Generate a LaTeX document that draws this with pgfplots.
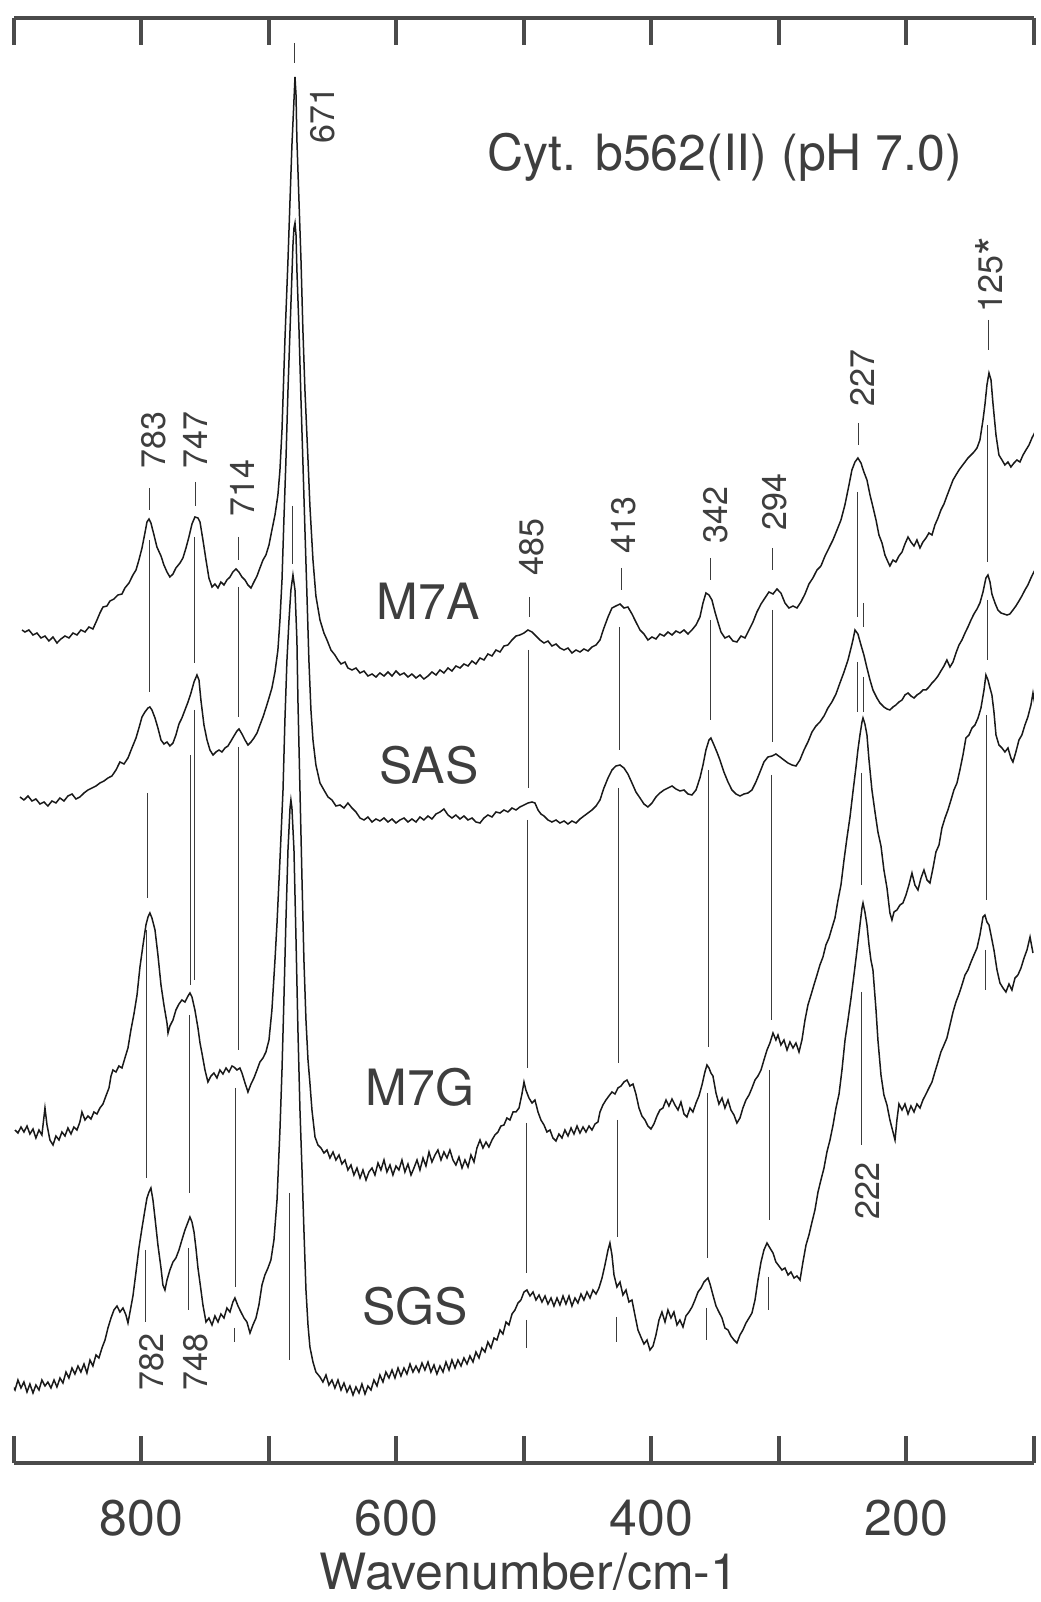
\documentclass[border=0pt]{standalone}
\usepackage{pgfplots}
\pgfplotsset{compat=1.18}
\usepackage{fontspec}
\setmainfont{TeX Gyre Heros}
\definecolor{axiscol}{RGB}{75,75,75}
\definecolor{textcol}{RGB}{62,62,62}
\definecolor{tracecol}{RGB}{25,25,25}
\definecolor{annotcol}{RGB}{60,60,60}
\newcommand{\bigf}{\fontsize{25}{30}\selectfont}
\newcommand{\smf}{\fontsize{17}{20}\selectfont}
\begin{document}
\begin{tikzpicture}
\path[use as bounding box] (0,0) rectangle (520pt,801pt);
\begin{axis}[
  at={(7pt,69.5pt)}, anchor=south west,
  scale only axis, width=510pt, height=722.5pt,
  xmin=100, xmax=900, x dir=reverse,
  ymin=0, ymax=1445,
  axis x line=box, axis y line=none, ytick=\empty,
  xtick={200,400,600,800}, minor xtick={100,300,500,700,900},
  tick align=inside,
  major tick length=13.5pt, minor tick length=13.5pt,
  axis line style={line width=2pt, color=axiscol},
  tick style={line width=2pt, color=axiscol},
  xticklabel style={font=\bigf, text=textcol, inner sep=0pt, yshift=-18.5pt},
  /pgf/number format/assume math mode=true,
  xlabel={Wavenumber/cm-1},
  xlabel style={font=\bigf, text=textcol, at={(axis description cs:0.505,0)}, anchor=north, yshift=-45pt, inner sep=0pt},
  trace/.style={color=tracecol, line width=0.75pt, mark=none},
  annot/.style={color=annotcol, line width=0.5pt, mark=none},
]
% ---------------- M7A ----------------
\addplot[trace] coordinates {(893.7,833) (891.4,831) (888.3,833) (885.1,828) (882.0,830) (878.8,825) (875.7,827) (872.6,822) (869.4,826) (866.3,820) (863.2,824) (860.0,827) (856.9,825) (853.7,830) (850.6,828) (847.5,833) (844.3,831) (841.2,836) (838.1,834) (834.9,843) (832.6,850) (830.2,856) (827.1,857) (824.7,862) (821.6,864) (818.5,868) (815.3,869) (813.0,875) (809.8,880) (806.7,888) (804.3,893) (802.0,903) (799.6,915) (797.3,930) (795.7,941) (794.1,944) (792.6,940) (790.2,928) (787.9,916) (784.7,907) (782.4,898) (780.0,891) (777.7,886) (775.3,889) (773.0,895) (769.8,900) (767.5,905) (765.1,915) (762.8,926) (760.4,939) (758.1,946) (755.7,945) (754.1,941) (751.8,923) (749.4,903) (747.1,885) (744.7,876) (742.4,879) (740.0,875) (737.7,881) (735.3,878) (733.0,883) (730.6,886) (728.3,891) (725.9,894) (723.6,891) (721.2,886) (718.8,883) (716.5,878) (714.1,875) (711.8,881) (709.4,887) (707.1,895) (704.7,903) (702.4,908) (700.0,918) (697.7,933) (695.3,948) (693.0,968) (691.4,993) (689.8,1033) (687.5,1123) (685.1,1203) (683.5,1263) (682.0,1318) (680.4,1363) (679.6,1386) (678.8,1368) (678.1,1323) (676.5,1263) (674.9,1203) (673.4,1133) (671.8,1073) (669.4,1003) (667.9,957) (665.5,903) (663.2,867) (660.0,843) (656.9,830) (654.5,823) (651.4,813) (648.3,808) (645.9,803) (643.5,799) (640.4,801) (638.1,795) (634.9,793) (631.8,795) (628.6,790) (625.5,792) (622.4,787) (619.2,789) (616.1,786) (613.0,790) (609.8,787) (606.7,791) (603.5,787) (600.4,792) (597.3,788) (594.1,790) (591.0,786) (587.9,789) (584.7,785) (581.6,788) (578.5,784) (575.3,787) (572.2,791) (569.0,788) (565.9,793) (562.8,790) (559.6,795) (556.5,792) (553.4,797) (550.2,795) (547.1,799) (543.9,797) (540.8,802) (537.7,799) (534.5,805) (531.4,803) (528.3,809) (525.1,807) (522.0,813) (518.8,811) (515.7,817) (512.6,818) (509.4,823) (506.3,827) (503.2,828) (500.0,830) (496.9,833) (493.7,831) (490.6,827) (487.5,823) (484.3,820) (481.2,822) (478.1,817) (474.9,819) (471.8,815) (468.6,813) (465.5,815) (462.4,810) (459.2,813) (456.1,811) (453.0,814) (449.8,812) (446.7,816) (443.5,818) (440.4,823) (437.3,835) (434.1,846) (431.0,855) (427.9,857) (424.7,859) (421.6,855) (418.5,856) (415.3,849) (412.2,841) (409.0,833) (405.9,829) (402.8,823) (399.6,826) (396.5,824) (393.4,829) (390.2,827) (387.1,831) (383.9,828) (380.8,832) (377.7,830) (374.5,833) (371.4,829) (368.3,833) (365.1,838) (362.0,846) (359.6,860) (357.3,870) (354.9,868) (352.6,863) (350.2,851) (347.9,841) (345.5,831) (342.4,825) (339.2,827) (336.1,822) (333.0,821) (329.8,827) (326.7,825) (323.5,833) (320.4,841) (317.3,851) (314.1,859) (311.0,865) (307.9,871) (304.7,869) (301.6,874) (298.5,870) (295.3,860) (292.2,855) (289.0,857) (285.9,855) (282.8,861) (279.6,869) (276.5,879) (273.4,885) (270.2,893) (267.1,897) (263.9,907) (260.8,915) (257.7,923) (254.5,933) (251.4,943) (248.3,958) (245.1,978) (242.8,993) (240.4,1001) (238.1,1005) (235.7,1000) (233.4,991) (231.0,983) (228.6,968) (226.3,956) (223.9,943) (221.6,928) (219.2,920) (216.9,908) (214.5,901) (213.0,897) (210.6,903) (208.3,901) (205.9,907) (203.5,911) (201.2,919) (198.8,926) (196.5,921) (194.1,917) (191.8,923) (189.4,915) (187.1,921) (184.7,925) (182.4,930) (180.0,928) (177.7,938) (175.3,945) (173.0,953) (170.6,959) (168.3,967) (165.9,975) (163.5,983) (161.2,988) (158.8,993) (156.5,997) (154.1,1001) (151.8,1005) (149.4,1008) (147.1,1011) (144.7,1015) (142.4,1023) (140.0,1043) (138.5,1058) (136.9,1078) (135.3,1090) (133.7,1083) (132.2,1060) (129.8,1028) (127.5,1008) (125.1,1003) (122.8,998) (120.4,1001) (118.1,996) (115.7,1000) (113.4,1003) (111.0,1001) (108.6,1008) (106.3,1013) (103.9,1018) (101.6,1025) (99.2,1031) (96.9,1036)};
% ---------------- SAS ----------------
\addplot[trace] coordinates {(895.3,666) (892.2,663) (889.0,667) (885.9,662) (882.8,664) (879.6,659) (876.5,661) (873.4,657) (870.2,662) (867.1,660) (864.0,665) (860.8,662) (857.7,667) (854.5,669) (851.4,664) (848.3,666) (845.1,670) (842.0,673) (838.8,675) (835.7,677) (832.6,680) (829.4,682) (826.3,685) (823.2,687) (820.0,693) (816.9,701) (813.7,699) (810.6,705) (807.5,715) (804.3,725) (802.0,735) (799.6,746) (797.3,751) (794.9,755) (793.4,756) (791.8,753) (789.4,745) (787.1,735) (784.7,723) (782.4,719) (780.0,721) (777.7,717) (775.3,720) (773.0,728) (770.6,739) (768.3,745) (765.9,753) (763.5,761) (761.2,770) (758.8,781) (756.5,788) (754.9,783) (753.4,763) (751.0,738) (748.6,723) (746.3,713) (743.9,708) (741.6,711) (739.2,713) (736.9,711) (734.5,715) (732.2,717) (729.8,722) (727.5,727) (725.1,732) (723.5,734) (721.2,729) (718.8,723) (716.5,718) (714.1,721) (711.8,725) (709.4,730) (707.1,738) (704.7,746) (702.4,755) (700.0,765) (697.7,775) (695.3,791) (693.0,813) (691.4,843) (689.8,883) (688.3,943) (686.7,1003) (685.1,1073) (683.5,1133) (682.0,1188) (681.2,1218) (680.4,1235) (679.6,1240) (678.8,1228) (678.1,1193) (676.5,1135) (674.9,1063) (673.4,1001) (671.8,933) (670.2,867) (668.7,803) (667.1,753) (665.5,723) (663.2,698) (660.0,680) (656.9,673) (653.7,666) (650.6,663) (647.5,657) (644.3,658) (641.2,655) (638.1,660) (634.9,655) (631.8,651) (628.6,645) (625.5,643) (622.4,646) (619.2,641) (616.1,644) (613.0,642) (609.8,645) (606.7,641) (603.5,644) (600.4,640) (597.3,643) (594.1,645) (591.0,641) (587.9,644) (584.7,641) (581.6,646) (578.5,643) (575.3,647) (572.2,644) (569.0,649) (565.9,651) (562.8,654) (559.6,648) (556.5,645) (553.4,648) (550.2,644) (547.1,647) (543.9,643) (540.8,645) (537.7,641) (534.5,640) (531.4,645) (528.3,648) (525.1,646) (522.0,651) (518.8,650) (515.7,653) (512.6,651) (509.4,655) (506.3,653) (503.2,656) (500.0,658) (496.9,660) (493.7,661) (491.4,660) (489.0,653) (486.7,649) (484.3,647) (481.2,643) (478.1,641) (474.9,643) (471.8,640) (468.6,642) (465.5,639) (462.4,642) (459.2,640) (456.1,644) (453.0,647) (449.8,650) (446.7,653) (443.5,657) (440.4,663) (437.3,675) (434.1,685) (431.0,693) (427.9,697) (424.7,698) (421.6,695) (418.5,689) (415.3,680) (412.2,671) (409.0,665) (405.9,659) (402.8,656) (399.6,660) (396.5,666) (393.4,670) (390.2,673) (387.1,675) (383.9,677) (380.8,674) (377.7,672) (374.5,673) (371.4,669) (368.3,668) (365.1,673) (362.0,685) (359.6,698) (357.3,713) (354.9,723) (353.4,725) (351.0,718) (348.7,711) (346.3,703) (343.2,691) (340.0,681) (336.9,673) (333.7,669) (330.6,667) (327.5,669) (324.3,670) (321.2,673) (318.1,681) (314.9,691) (311.8,701) (308.7,706) (305.5,707) (302.4,709) (299.2,706) (296.1,703) (293.0,700) (289.8,698) (286.7,697) (283.6,703) (280.4,713) (277.3,721) (274.1,731) (271.0,737) (267.9,741) (264.7,747) (261.6,755) (258.5,761) (255.3,769) (252.2,780) (249.0,791) (245.9,803) (243.5,815) (242.0,823) (240.4,833) (238.1,829) (235.7,818) (233.4,808) (231.0,795) (228.6,783) (226.3,773) (223.2,765) (220.8,760) (217.7,756) (215.3,754) (213.0,753) (210.6,756) (208.3,758) (205.9,761) (203.5,763) (201.2,768) (198.8,770) (196.5,767) (194.1,765) (191.8,768) (189.4,770) (187.1,773) (184.7,773) (182.4,776) (180.0,780) (177.7,783) (175.3,787) (173.0,792) (170.6,797) (168.3,803) (165.9,796) (163.5,801) (161.2,810) (158.8,818) (156.5,823) (154.1,830) (151.8,836) (149.4,843) (147.1,849) (144.7,854) (142.4,860) (140.0,871) (137.7,885) (136.1,888) (134.5,881) (133.0,869) (130.6,860) (128.3,853) (125.9,850) (123.6,849) (121.2,848) (118.9,849) (116.5,853) (114.2,857) (111.8,862) (109.5,867) (107.1,873) (104.8,878) (102.4,885) (100.1,891) (97.7,896)};
% ---------------- M7G ----------------
\addplot[trace] coordinates {(899.2,333) (896.9,330) (894.5,336) (892.2,331) (889.8,337) (887.5,329) (885.1,334) (882.8,325) (880.4,333) (878.1,328) (875.7,355) (874.1,338) (871.8,323) (869.4,318) (867.1,327) (864.7,323) (862.4,331) (860.0,327) (857.7,335) (855.3,329) (853.0,336) (850.6,333) (848.3,341) (846.7,351) (844.3,343) (842.0,347) (839.6,344) (837.3,351) (834.9,349) (832.6,355) (830.2,359) (827.9,367) (825.5,375) (823.9,387) (822.4,393) (820.0,391) (817.7,397) (815.3,395) (813.0,405) (810.6,415) (808.3,433) (805.9,449) (803.5,468) (801.2,496) (798.8,518) (796.5,538) (794.9,546) (793.4,550) (791.8,545) (789.4,533) (787.1,508) (784.7,478) (782.4,458) (780.0,440) (779.2,430) (777.7,437) (775.3,443) (773.0,453) (770.6,459) (768.3,463) (765.9,461) (763.5,467) (762.0,470) (760.4,466) (758.1,453) (755.7,435) (754.1,420) (752.6,410) (750.2,393) (747.9,381) (745.5,387) (743.2,390) (740.8,385) (738.5,393) (736.1,389) (733.7,395) (731.4,391) (729.0,397) (727.5,396) (725.1,393) (722.8,395) (721.2,390) (718.8,380) (716.5,371) (714.1,379) (711.8,385) (709.4,393) (707.1,401) (704.7,405) (702.4,411) (700.0,423) (697.7,453) (695.3,503) (693.7,540) (691.4,603) (689.0,673) (687.5,743) (685.9,803) (684.3,843) (682.8,873) (681.2,888) (679.6,873) (678.1,823) (677.3,763) (675.7,673) (674.1,583) (672.6,503) (671.0,443) (669.4,403) (667.9,380) (666.3,353) (663.9,326) (661.6,318) (659.2,315) (656.9,310) (654.5,313) (652.2,305) (649.8,311) (647.5,303) (645.1,308) (642.8,299) (640.4,303) (638.1,293) (635.7,298) (633.4,288) (631.0,295) (628.6,285) (626.3,293) (623.9,283) (621.6,291) (619.2,295) (616.9,288) (614.5,300) (612.2,293) (609.8,303) (607.5,291) (605.1,298) (602.8,288) (600.4,297) (598.1,293) (595.7,303) (593.4,291) (591.0,299) (588.6,288) (586.3,295) (583.9,303) (581.6,293) (579.2,305) (576.9,297) (574.5,311) (572.2,301) (569.8,308) (567.5,313) (565.1,303) (562.8,311) (560.4,305) (558.1,313) (555.7,303) (553.4,298) (551.0,306) (548.6,295) (546.3,303) (543.9,296) (541.6,308) (539.2,301) (536.9,315) (534.5,323) (532.2,315) (529.8,321) (527.5,316) (525.1,323) (522.8,328) (520.4,331) (518.1,337) (515.7,338) (513.4,345) (511.0,343) (508.6,351) (506.3,351) (503.9,355) (501.6,369) (500.0,381) (498.5,373) (496.1,365) (493.7,360) (491.4,363) (489.0,351) (486.7,343) (484.3,338) (482.0,331) (479.6,333) (477.3,325) (474.9,322) (472.6,329) (470.2,325) (467.9,333) (465.5,327) (463.1,335) (460.8,329) (458.4,337) (456.1,330) (453.7,336) (451.4,331) (449.0,337) (446.7,333) (444.3,339) (442.0,341) (440.4,351) (438.1,358) (435.7,363) (433.4,367) (431.0,371) (428.6,369) (426.3,375) (423.9,377) (421.6,381) (419.2,383) (416.9,377) (414.5,379) (412.2,369) (409.8,355) (407.5,347) (405.1,343) (402.8,337) (400.4,334) (398.1,339) (395.7,347) (393.4,353) (391.0,355) (388.6,363) (386.3,357) (383.9,364) (381.6,358) (379.2,353) (376.9,361) (374.5,349) (372.2,346) (369.8,355) (367.5,351) (365.1,360) (362.8,367) (360.4,378) (358.1,391) (356.5,398) (354.9,395) (353.4,390) (351.8,387) (349.4,370) (347.1,359) (344.7,365) (342.4,355) (340.0,363) (337.7,353) (335.3,348) (333.0,340) (330.6,345) (328.3,355) (325.9,363) (323.5,368) (321.2,375) (318.8,383) (316.5,387) (314.1,393) (311.8,403) (309.4,413) (307.1,420) (304.7,430) (302.4,423) (300.8,428) (298.5,418) (296.1,423) (293.7,413) (291.4,421) (289.0,415) (286.7,420) (284.3,411) (282.0,423) (279.6,443) (277.3,458) (274.9,468) (272.6,478) (270.2,488) (267.9,498) (265.5,506) (263.2,518) (260.8,525) (258.5,535) (256.1,545) (253.7,563) (251.4,578) (249.0,603) (246.7,625) (244.3,646) (242.0,671) (239.6,696) (238.1,713) (236.5,728) (234.9,741) (234.1,745) (232.6,739) (231.0,728) (229.4,703) (227.1,673) (224.7,651) (222.4,631) (220.0,617) (217.7,593) (215.3,575) (213.0,550) (211.4,543) (209.8,551) (207.5,553) (205.1,558) (202.8,560) (200.4,568) (198.1,578) (195.7,590) (193.4,578) (191.0,573) (188.6,585) (186.3,593) (183.9,583) (181.6,580) (179.2,595) (176.9,611) (174.5,618) (172.2,635) (169.8,645) (167.5,653) (165.1,663) (162.8,673) (160.4,680) (158.1,693) (155.7,708) (153.4,725) (151.0,728) (148.6,735) (146.3,738) (143.9,745) (141.6,755) (139.2,773) (137.7,788) (136.1,783) (134.5,775) (133.0,768) (131.4,751) (129.8,728) (127.5,718) (125.1,715) (122.8,711) (120.4,715) (118.1,705) (116.5,701) (114.2,711) (111.8,723) (109.5,728) (107.1,738) (104.8,746) (102.4,758) (100.8,770) (99.2,758) (97.7,743)};
% ---------------- SGS ----------------
\addplot[trace] coordinates {(901.6,78) (899.2,73) (896.9,83) (894.5,75) (892.2,81) (889.8,71) (887.5,79) (885.1,70) (882.8,78) (880.4,73) (878.1,83) (875.7,77) (873.4,81) (871.0,75) (868.6,83) (866.3,76) (863.9,85) (861.6,80) (859.2,91) (856.9,85) (854.5,95) (852.2,89) (849.8,97) (847.5,91) (845.1,99) (842.8,90) (840.4,103) (838.1,97) (835.7,108) (833.4,105) (831.0,115) (828.6,123) (826.3,135) (823.9,145) (821.6,153) (819.2,157) (816.9,151) (814.5,155) (812.2,148) (810.6,140) (809.0,151) (806.7,167) (804.3,191) (802.0,215) (799.6,235) (797.3,253) (795.7,265) (794.1,271) (792.6,275) (791.0,263) (789.4,245) (787.1,218) (784.7,195) (783.2,178) (781.6,173) (780.0,183) (777.7,193) (775.3,201) (773.0,205) (770.6,213) (768.3,223) (765.9,233) (763.5,241) (762.0,246) (760.4,241) (758.8,231) (757.3,215) (755.7,195) (754.1,180) (751.8,158) (749.4,141) (747.1,145) (744.7,138) (742.4,147) (740.0,141) (737.7,149) (735.3,145) (733.0,155) (730.6,151) (728.3,161) (726.7,165) (724.3,157) (722.0,151) (719.6,145) (717.3,141) (714.9,130) (712.6,138) (710.2,145) (707.9,158) (705.5,178) (703.2,188) (700.8,195) (698.5,203) (696.1,223) (693.7,263) (691.4,333) (689.8,393) (688.3,463) (686.7,543) (685.1,613) (683.5,655) (682.8,663) (682.0,655) (680.4,613) (678.8,523) (677.3,433) (675.7,353) (674.1,293) (672.6,233) (671.0,173) (669.4,138) (667.9,116) (665.5,101) (663.2,91) (660.0,86) (657.7,81) (655.3,88) (653.0,78) (650.6,83) (648.3,75) (645.9,83) (643.5,73) (641.2,80) (638.8,71) (636.5,77) (634.1,68) (631.8,76) (629.4,70) (627.1,79) (624.7,69) (622.4,77) (620.0,73) (617.7,83) (615.3,77) (613.0,88) (610.6,81) (608.3,91) (605.9,85) (603.5,93) (601.2,85) (598.8,95) (596.5,87) (594.1,95) (591.8,89) (589.4,99) (587.1,91) (584.7,97) (582.4,91) (580.0,100) (577.7,93) (575.3,101) (573.0,91) (570.6,98) (568.3,89) (565.9,97) (563.5,91) (561.2,101) (558.8,93) (556.5,103) (554.1,95) (551.8,103) (549.4,97) (547.1,105) (544.7,99) (542.4,107) (540.0,101) (537.7,111) (535.3,105) (533.0,115) (530.6,111) (528.3,121) (525.9,115) (523.5,125) (521.2,123) (518.8,133) (516.5,129) (514.1,141) (511.8,138) (509.4,149) (507.1,153) (504.7,160) (502.4,163) (500.0,171) (497.7,173) (495.3,167) (492.9,171) (490.6,163) (488.2,168) (485.9,161) (483.5,167) (481.2,159) (478.8,165) (476.5,157) (474.1,165) (471.8,158) (469.4,167) (467.1,159) (464.7,167) (462.4,157) (460.0,165) (457.7,160) (455.3,169) (453.0,163) (450.6,171) (448.2,165) (445.9,173) (443.5,169) (441.2,175) (438.8,185) (436.5,198) (434.1,213) (432.6,220) (431.0,208) (429.4,188) (427.1,176) (424.7,181) (422.4,168) (420.0,173) (417.7,161) (415.3,163) (413.0,148) (410.6,133) (408.3,126) (405.9,119) (403.5,123) (401.2,113) (398.8,117) (396.5,128) (394.1,143) (391.8,151) (389.4,141) (387.1,153) (384.7,145) (382.4,151) (380.0,138) (377.7,143) (375.3,136) (373.0,147) (370.6,151) (368.2,156) (365.9,163) (363.5,171) (361.2,175) (358.8,181) (357.3,183) (355.7,185) (354.1,179) (351.8,168) (349.4,157) (347.1,151) (344.7,145) (342.4,135) (340.0,133) (337.7,127) (335.3,123) (333.0,120) (330.6,128) (328.3,133) (325.9,140) (323.5,145) (321.2,150) (318.8,163) (316.5,183) (314.1,201) (311.8,213) (309.4,220) (307.1,215) (304.7,210) (302.4,201) (300.0,197) (297.7,193) (295.3,195) (292.9,188) (290.6,191) (288.2,185) (285.9,187) (283.5,183) (281.2,201) (278.8,218) (276.5,228) (274.1,241) (271.8,253) (269.4,271) (267.1,283) (264.7,295) (262.4,311) (260.0,323) (257.6,338) (255.3,355) (252.9,369) (250.6,393) (248.2,423) (245.9,443) (243.5,465) (241.2,488) (238.8,513) (236.5,538) (234.9,555) (234.1,560) (232.6,551) (231.0,538) (229.4,518) (227.9,503) (226.3,493) (223.9,453) (222.4,423) (220.0,388) (217.7,368) (215.3,358) (213.0,343) (210.6,331) (209.0,323) (207.5,343) (205.9,359) (203.5,353) (201.2,359) (198.8,349) (196.5,357) (194.1,351) (191.8,359) (189.4,355) (187.1,363) (184.7,369) (182.4,375) (180.0,381) (177.7,391) (175.3,401) (173.0,411) (170.6,418) (168.3,425) (165.9,438) (163.5,451) (161.2,461) (158.8,469) (156.5,478) (154.1,488) (151.8,493) (149.4,501) (147.1,508) (144.7,515) (142.4,528) (140.0,546) (138.5,548) (136.9,541) (135.3,538) (133.7,528) (131.4,513) (129.0,493) (126.7,480) (124.3,475) (122.0,471) (119.6,479) (117.3,473) (114.9,485) (112.6,488) (110.2,495) (107.8,505) (105.5,513) (103.1,526) (100.8,510)};
% ---------------- marker lines ----------------
% 783 / 782
\addplot[annot] coordinates {(794.1,975) (794.1,953)};
\addplot[annot] coordinates {(794.1,923) (794.1,771)};
\addplot[annot] coordinates {(794.9,670) (794.9,565)};
\addplot[annot] coordinates {(795.7,533) (795.7,285)};
\addplot[annot] coordinates {(796.5,213) (796.5,141)};
% 747 / 748
\addplot[annot] coordinates {(757.3,981) (757.3,957)};
\addplot[annot] coordinates {(758.1,926) (758.1,800)};
\addplot[annot] coordinates {(758.8,753) (758.8,483)};
\addplot[annot] coordinates {(761.2,708) (761.2,478)};
\addplot[annot] coordinates {(762.0,448) (762.0,270)};
\addplot[annot] coordinates {(762.8,215) (762.8,153)};
% 714
\addplot[annot] coordinates {(724.3,926) (724.3,903)};
\addplot[annot] coordinates {(724.3,876) (724.3,746)};
\addplot[annot] coordinates {(724.3,716) (724.3,413)};
\addplot[annot] coordinates {(725.9,375) (725.9,176)};
\addplot[annot] coordinates {(726.7,135) (726.7,121)};
% 671
\addplot[annot] coordinates {(679.6,1420) (679.6,1400)};
\addplot[annot] coordinates {(681.2,957) (681.2,899)};
\addplot[annot] coordinates {(684.3,270) (684.3,103)};
% 485
\addplot[annot] coordinates {(495.3,866) (495.3,846)};
\addplot[annot] coordinates {(496.1,813) (496.1,675)};
\addplot[annot] coordinates {(496.9,643) (496.9,395)};
\addplot[annot] coordinates {(497.7,340) (497.7,190)};
\addplot[annot] coordinates {(497.7,143) (497.7,115)};
% 413
\addplot[annot] coordinates {(423.9,895) (423.9,873)};
\addplot[annot] coordinates {(424.7,836) (424.7,713)};
\addplot[annot] coordinates {(425.5,675) (425.5,400)};
\addplot[annot] coordinates {(426.3,343) (426.3,226)};
\addplot[annot] coordinates {(427.1,146) (427.1,121)};
% 342
\addplot[annot] coordinates {(353.4,905) (353.4,883)};
\addplot[annot] coordinates {(354.1,843) (354.1,743)};
\addplot[annot] coordinates {(354.9,693) (354.9,416)};
\addplot[annot] coordinates {(355.7,370) (355.7,205)};
\addplot[annot] coordinates {(356.5,155) (356.5,123)};
% 294
\addplot[annot] coordinates {(304.7,915) (304.7,893)};
\addplot[annot] coordinates {(304.7,853) (304.7,721)};
\addplot[annot] coordinates {(305.5,688) (305.5,443)};
\addplot[annot] coordinates {(307.1,393) (307.1,243)};
\addplot[annot] coordinates {(307.9,186) (307.9,153)};
% 227 / 222
\addplot[annot] coordinates {(237.3,1040) (237.3,1018)};
\addplot[annot] coordinates {(238.1,971) (238.1,846)};
\addplot[annot] coordinates {(234.1,860) (234.1,836)};
\addplot[annot] coordinates {(238.8,801) (238.8,751)};
\addplot[annot] coordinates {(234.1,786) (234.1,751)};
\addplot[annot] coordinates {(234.9,690) (234.9,578)};
\addplot[annot] coordinates {(234.9,471) (234.9,318)};
% 125
\addplot[annot] coordinates {(135.3,1143) (135.3,1113)};
\addplot[annot] coordinates {(136.1,1038) (136.1,901)};
\addplot[annot] coordinates {(136.1,863) (136.1,803)};
\addplot[annot] coordinates {(136.9,748) (136.9,563)};
\addplot[annot] coordinates {(137.7,513) (137.7,473)};
% ---------------- labels ----------------
\node[rotate=90, font=\smf, text=textcol] at (axis cs:790.2,1023) {783};
\node[rotate=90, font=\smf, text=textcol] at (axis cs:757.3,1023) {747};
\node[rotate=90, font=\smf, text=textcol] at (axis cs:721.2,975) {714};
\node[rotate=90, font=\smf, text=textcol] at (axis cs:657.7,1348) {671};
\node[rotate=90, font=\smf, text=textcol] at (axis cs:493.7,916) {485};
\node[rotate=90, font=\smf, text=textcol] at (axis cs:421.6,938) {413};
\node[rotate=90, font=\smf, text=textcol] at (axis cs:349.4,948) {342};
\node[rotate=90, font=\smf, text=textcol] at (axis cs:303.2,961) {294};
\node[rotate=90, font=\smf, text=textcol] at (axis cs:234.9,1085) {227};
\node[rotate=90, font=\smf, text=textcol] at (axis cs:132.2,1188) {125\raisebox{-0.45ex}{\fontsize{24}{24}\selectfont *}};
\node[rotate=90, font=\smf, text=textcol] at (axis cs:791.8,101) {782};
\node[rotate=90, font=\smf, text=textcol] at (axis cs:757.3,101) {748};
\node[rotate=90, font=\smf, text=textcol] at (axis cs:231.0,272) {222};
\node[font=\bigf, text=textcol] at (axis cs:575.3,862) {M7A};
\node[font=\bigf, text=textcol] at (axis cs:574.5,698) {SAS};
\node[font=\bigf, text=textcol] at (axis cs:581.6,376) {M7G};
\node[font=\bigf, text=textcol] at (axis cs:585.5,157) {SGS};
\node[font=\bigf, text=textcol] at (axis cs:342.4,1306) {Cyt. b562(II) (pH 7.0)};
\end{axis}
\end{tikzpicture}
\end{document}
